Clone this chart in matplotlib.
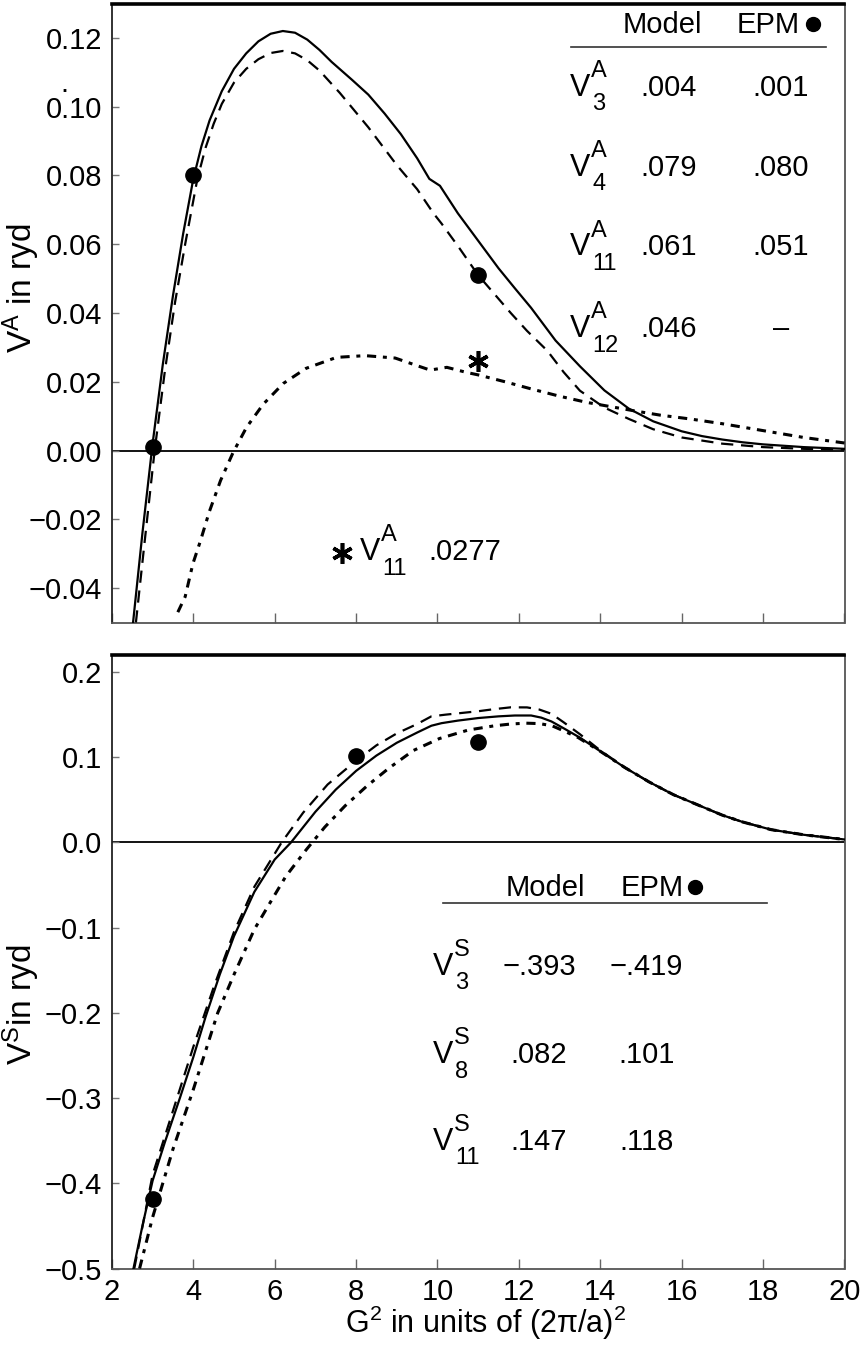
import matplotlib
matplotlib.use("Agg")
import matplotlib.pyplot as plt

plt.rcParams['font.family'] = ['Liberation Sans', 'DejaVu Sans']
plt.rcParams['mathtext.fontset'] = 'custom'
plt.rcParams['mathtext.rm'] = 'Liberation Sans'
plt.rcParams['mathtext.it'] = 'Liberation Sans:italic'
plt.rcParams['mathtext.bf'] = 'Liberation Sans:bold'
FS = 21

# ---- antisymmetric form factor V^A (top) ----
xa_model = [2.52, 2.75, 3.0, 3.25, 3.5, 3.75, 4.0, 4.2, 4.4, 4.7, 5.0, 5.3, 5.6, 5.9, 6.2, 6.5,
            6.8, 7.1, 7.4, 7.9, 8.3, 8.7, 9.1, 9.5, 9.8, 10.06, 10.5, 11.0, 11.5, 11.9, 12.3,
            12.9, 13.5, 14.1, 14.7, 15.3, 16.0, 16.5, 17.0, 17.5, 18.0, 19.0, 20.0]
va_model = [-0.05, -0.024, 0.002, 0.025, 0.045, 0.063, 0.079, 0.0885, 0.096, 0.1045, 0.111,
            0.1155, 0.119, 0.1212, 0.122, 0.1215, 0.1195, 0.1165, 0.113, 0.1078, 0.1035, 0.098,
            0.092, 0.085, 0.079, 0.077, 0.069, 0.061, 0.053, 0.0472, 0.0415, 0.032, 0.0245,
            0.0175, 0.0122, 0.0085, 0.0056, 0.0042, 0.0032, 0.0024, 0.0018, 0.001, 0.0005]

xa_dash = [2.59, 2.8, 3.05, 3.3, 3.55, 3.8, 4.1, 4.3, 4.5, 4.7, 5.0, 5.3, 5.6, 5.9, 6.2, 6.5,
           6.8, 7.1, 7.6, 8.3, 9.0, 9.5, 9.9, 10.1, 10.5, 11.0, 11.4, 11.8, 12.2, 12.7, 13.1,
           13.5, 14.1, 14.7, 15.3, 16.0, 17.0, 18.0, 19.0, 20.0]
va_dash = [-0.05, -0.027, 0.0, 0.023, 0.043, 0.060, 0.079, 0.088, 0.095, 0.1008, 0.107, 0.111,
           0.1138, 0.1156, 0.1162, 0.1155, 0.1135, 0.1105, 0.104, 0.094, 0.083, 0.076, 0.069,
           0.066, 0.0595, 0.051, 0.0455, 0.040, 0.0348, 0.029, 0.0228, 0.0174, 0.0125, 0.0092,
           0.0062, 0.0038, 0.002, 0.001, 0.0005, 0.0003]

xa_dot = [3.62, 3.8, 3.99, 4.18, 4.39, 4.67, 4.98, 5.31, 5.72, 6.21, 6.77, 7.52, 8.22, 8.96,
          9.57, 9.82, 10.23, 10.72, 11.0, 11.66, 12.31, 13.0, 13.67, 14.81, 15.47, 16.2, 17.0,
          18.0, 19.0, 20.0]
va_dot = [-0.047, -0.0425, -0.0329, -0.0261, -0.0179, -0.0087, -0.0005, 0.0068, 0.0135, 0.0195,
          0.0239, 0.0271, 0.0276, 0.0269, 0.0244, 0.0234, 0.0242, 0.0227, 0.022, 0.020, 0.0179,
          0.0158, 0.014, 0.0116, 0.0103, 0.0092, 0.0078, 0.0058, 0.0038, 0.0022]

epm_a_x = [3, 4, 11]
epm_a_y = [0.001, 0.080, 0.051]
star_x, star_y = 11, 0.026

table_a_sub = ['3', '4', '11', '12']
table_a_model = ['.004', '.079', '.061', '.046']
table_a_epm = ['.001', '.080', '.051', '\u2013']

# ---- symmetric form factor V^S (bottom) ----
xs_model = [2.53, 2.75, 3.0, 3.3, 3.67, 4.0, 4.3, 4.65, 5.0, 5.5, 6.0, 6.4, 7.0, 7.5, 8.0, 8.5,
            9.0, 9.5, 9.85, 10.1, 10.5, 11.0, 11.5, 11.9, 12.3, 12.55, 12.8, 13.1, 13.5, 14.0,
            14.6, 15.2, 15.8, 16.5, 17.0, 17.5, 18.2, 19.0, 20.0]
vs_model = [-0.5, -0.45, -0.397, -0.352, -0.30, -0.252, -0.205, -0.155, -0.11, -0.058, -0.02,
            0.0, 0.036, 0.062, 0.084, 0.102, 0.117, 0.129, 0.137, 0.14, 0.143, 0.146, 0.148,
            0.149, 0.149, 0.1465, 0.142, 0.134, 0.123, 0.107, 0.088, 0.071, 0.056, 0.042,
            0.032, 0.024, 0.015, 0.009, 0.0035]

xs_dash = [2.55, 3.0, 3.5, 4.0, 4.5, 5.0, 5.5, 6.17, 6.7, 7.3, 8.0, 8.5, 9.0, 9.5, 9.85, 10.2,
           10.6, 11.0, 11.4, 11.8, 12.2, 12.5, 12.8, 13.1, 13.5, 14.0, 14.6, 15.2, 15.8, 16.5,
           17.0, 17.5, 18.2, 19.0, 20.0]
vs_dash = [-0.5, -0.39, -0.315, -0.24, -0.17, -0.105, -0.052, 0.0, 0.035, 0.068, 0.096, 0.114,
           0.128, 0.139, 0.148, 0.150, 0.152, 0.154, 0.1565, 0.1586, 0.1585, 0.156, 0.151,
           0.141, 0.127, 0.108, 0.088, 0.071, 0.056, 0.042, 0.032, 0.024, 0.015, 0.009, 0.0035]

xs_dot = [2.68, 3.0, 3.5, 4.0, 4.6, 5.0, 5.5, 5.92, 6.27, 6.76, 7.23, 7.73, 8.26, 8.8, 9.41,
          10.05, 10.76, 11.41, 11.8, 12.17, 12.5, 12.81, 13.1, 13.46, 14.0, 14.6, 15.2, 15.8,
          16.5, 17.0, 17.5, 18.2, 19.0, 20.0]
vs_dot = [-0.5, -0.44, -0.36, -0.29, -0.2, -0.155, -0.102, -0.068, -0.040, -0.0094, 0.018,
          0.043, 0.066, 0.087, 0.108, 0.122, 0.132, 0.137, 0.139, 0.14, 0.1395, 0.137, 0.131,
          0.123, 0.107, 0.088, 0.071, 0.056, 0.042, 0.032, 0.024, 0.015, 0.009, 0.0035]

epm_s_x = [3, 8, 11]
epm_s_y = [-0.419, 0.101, 0.118]

table_s_sub = ['3', '8', '11']
table_s_model = ['\u2212.393', '.082', '.147']
table_s_epm = ['\u2212.419', '.101', '.118']

xticks = list(range(2, 21, 2))
yticks_a = [-0.04, -0.02, 0.0, 0.02, 0.04, 0.06, 0.08, 0.10, 0.12]
yticks_s = [-0.5, -0.4, -0.3, -0.2, -0.1, 0.0, 0.1, 0.2]

fig = plt.figure(figsize=(8.66, 13.47), dpi=100)
W, H = 866, 1347
L, R = 111.9, 844.5
ax1 = fig.add_axes([L / W, 1 - 622.5 / H, (R - L) / W, (622.5 - 3.5) / H])
ax2 = fig.add_axes([L / W, 1 - 1268.5 / H, (R - L) / W, (1268.5 - 655) / H])

dash_style = (0, (5.5, 3.5))
dot_style = (0, (3.0, 2.2, 1.3, 2.2))


def style_axes(ax):
    ax.set_xlim(2, 20)
    ax.set_xticks(xticks)
    ax.axhline(0, color='black', lw=1.3, zorder=1)
    ax.spines['top'].set_linewidth(2.6)
    ax.spines['top'].set_color('black')
    ax.spines['left'].set_linewidth(1.3)
    ax.spines['left'].set_color('#222222')
    for s in ('right', 'bottom'):
        ax.spines[s].set_linewidth(1.3)
        ax.spines[s].set_color('#555555')
    ax.tick_params(axis='x', direction='in', length=7, width=1, color='#666666',
                   labelsize=FS, pad=7)
    ax.tick_params(axis='y', direction='in', length=5, width=1, color='#777777',
                   labelsize=FS, pad=7)


def v_label(ax, x, y, sup, sub, fs=FS + 1):
    # V with stacked superscript and subscript, x is the right edge of the V
    ax.annotate('V', (x, y), xycoords='axes fraction', ha='right', va='center', fontsize=fs)
    ax.annotate(sup, (x, y), xycoords='axes fraction', xytext=(0.5, 12),
                textcoords='offset points', ha='left', va='center', fontsize=fs - 5)
    ax.annotate(sub, (x, y), xycoords='axes fraction', xytext=(1.5, -12),
                textcoords='offset points', ha='left', va='center', fontsize=fs - 5)


# top panel
style_axes(ax1)
ax1.set_ylim(-0.05, 0.13)
ax1.set_yticks(yticks_a)
ax1.set_yticklabels(['%.2f' % v if v >= 0 else '\u2212%.2f' % -v for v in yticks_a])
ax1.tick_params(axis='x', labelbottom=False)
ax1.plot(xa_model, va_model, color='black', lw=1.6, zorder=3)
ax1.plot(xa_dash, va_dash, color='black', lw=1.6, ls=dash_style, zorder=3)
ax1.plot(xa_dot, va_dot, color='black', lw=2.2, ls=dot_style, zorder=3)
ax1.plot(epm_a_x, epm_a_y, 'o', color='black', ms=11, zorder=4)
ax1.plot([star_x], [star_y], marker=(6, 2, 0), color='black', ms=15, mew=2.6, ls='none',
         zorder=4)
ax1.set_ylabel(r'V$\mathregular{^{A}}$ in ryd', fontsize=24)
ax1.yaxis.set_label_coords(-0.095, 0.54)

# table in top panel
ax1.text(0.751, 0.965, 'Model', transform=ax1.transAxes, ha='center', va='center', fontsize=FS)
ax1.text(0.896, 0.965, 'EPM', transform=ax1.transAxes, ha='center', va='center', fontsize=FS)
ax1.plot([0.957], [0.967], 'o', color='black', ms=10, transform=ax1.transAxes, clip_on=False)
ax1.plot([0.626, 0.975], [0.930, 0.930], color='#333333', lw=1.2, transform=ax1.transAxes)
rows_a = [0.864, 0.735, 0.606, 0.474]
for yy, sub, m, e in zip(rows_a, table_a_sub, table_a_model, table_a_epm):
    v_label(ax1, 0.653, yy, 'A', sub)
    ax1.text(0.760, yy, m, transform=ax1.transAxes, ha='center', va='center', fontsize=FS)
    ax1.text(0.913, yy, e, transform=ax1.transAxes, ha='center', va='center', fontsize=FS)

# star legend
ax1.plot([0.314], [0.112], marker=(6, 2, 0), color='black', ms=15, mew=2.6,
         transform=ax1.transAxes)
v_label(ax1, 0.366, 0.114, 'A', '11')
ax1.text(0.482, 0.114, '.0277', transform=ax1.transAxes, ha='center', va='center', fontsize=FS)

# stray mark above 0.10 in the source
fig.text(64 / W, 1 - 92 / H, '.', fontsize=FS, ha='center', va='baseline')

# bottom panel
style_axes(ax2)
ax2.set_ylim(-0.5, 0.22)
ax2.set_yticks(yticks_s)
ax2.set_yticklabels(['%.1f' % v if v >= 0 else '\u2212%.1f' % -v for v in yticks_s])
ax2.plot(xs_model, vs_model, color='black', lw=1.6, zorder=3)
ax2.plot(xs_dash, vs_dash, color='black', lw=1.6, ls=dash_style, zorder=3)
ax2.plot(xs_dot, vs_dot, color='black', lw=2.2, ls=dot_style, zorder=3)
ax2.plot(epm_s_x, epm_s_y, 'o', color='black', ms=11, zorder=4)
ax2.set_ylabel(r'V$\mathregular{^{S}}$in ryd', fontsize=24)
ax2.yaxis.set_label_coords(-0.095, 0.43)
ax2.set_xlabel(r'G$\mathregular{^{2}}$ in units of (2$\mathregular{\pi}$/a)$\mathregular{^{2}}$',
               fontsize=FS + 1)
ax2.xaxis.set_label_coords(0.51, -0.058)

# table in bottom panel
ax2.text(0.592, 0.620, 'Model', transform=ax2.transAxes, ha='center', va='center', fontsize=FS)
ax2.text(0.738, 0.620, 'EPM', transform=ax2.transAxes, ha='center', va='center', fontsize=FS)
ax2.plot([0.796], [0.622], 'o', color='black', ms=10, transform=ax2.transAxes, clip_on=False)
ax2.plot([0.452, 0.894], [0.595, 0.595], color='#333333', lw=1.2, transform=ax2.transAxes)
rows_s = [0.492, 0.348, 0.207]
for yy, sub, m, e in zip(rows_s, table_s_sub, table_s_model, table_s_epm):
    v_label(ax2, 0.466, yy, 'S', sub)
    ax2.text(0.583, yy, m, transform=ax2.transAxes, ha='center', va='center', fontsize=FS)
    ax2.text(0.730, yy, e, transform=ax2.transAxes, ha='center', va='center', fontsize=FS)

fig.savefig('out.png', dpi=100)
